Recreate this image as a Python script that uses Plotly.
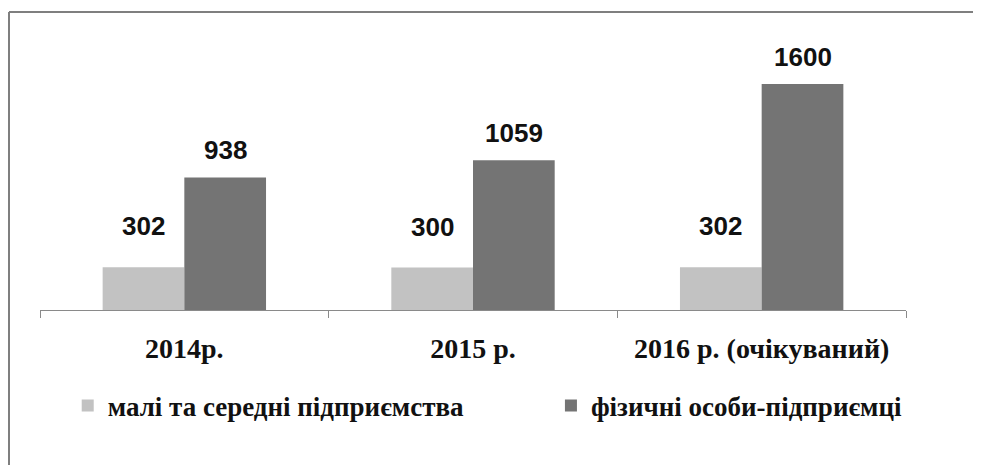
import plotly.graph_objects as go

# categories and values
years = ["2014р.", "2015 р.", "2016 р. (очікуваний)"]
small_medium = [302, 300, 302]
individual = [938, 1059, 1600]
series_names = ["малі та середні підприємства", "фізичні особи-підприємці"]

LIGHT = "#c2c2c2"
DARK = "#747474"
SERIF = "Liberation Serif"
SANS = "Liberation Sans"

fig = go.Figure()
fig.add_trace(go.Bar(x=years, y=small_medium, name=series_names[0],
                     marker=dict(color=LIGHT, line=dict(width=0)),
                     legend="legend"))
fig.add_trace(go.Bar(x=years, y=individual, name=series_names[1],
                     marker=dict(color=DARK, line=dict(width=0)),
                     legend="legend2"))

# value labels above the bars (left bar / right bar of each group)
for yr, v in zip(years, small_medium):
    fig.add_annotation(x=yr, y=v, text=str(v), showarrow=False,
                       xshift=-41, yshift=24, yanchor="bottom",
                       font=dict(family=SANS, size=26, color="#111111",
                                 weight="bold"))
for yr, v in zip(years, individual):
    fig.add_annotation(x=yr, y=v, text=str(v), showarrow=False,
                       xshift=41, yshift=10, yanchor="bottom",
                       font=dict(family=SANS, size=26, color="#111111",
                                 weight="bold"))

# frame lines (top and left edges of the original chart box)
fig.add_shape(type="line", xref="paper", yref="paper",
              x0=-0.0358, x1=1.1, y0=1.192, y1=1.192,
              line=dict(color="#7f7f7f", width=2))
fig.add_shape(type="line", xref="paper", yref="paper",
              x0=-0.0358, x1=-0.0358, y0=1.192, y1=-0.7,
              line=dict(color="#7f7f7f", width=2))

legend_font = dict(family=SERIF, size=27, color="#111111", weight="bold")

fig.update_layout(
    width=973, height=457,
    margin=dict(l=32, r=75, t=52, b=155),
    paper_bgcolor="white", plot_bgcolor="white",
    barmode="group", bargap=0.434, bargroupgap=0,
    showlegend=True,
    legend=dict(orientation="h", x=0.032, xanchor="left",
                y=-0.384, yanchor="middle", font=legend_font,
                itemwidth=30),
    legend2=dict(orientation="h", x=0.590, xanchor="left",
                 y=-0.384, yanchor="middle", font=legend_font,
                 itemwidth=30),
    xaxis=dict(showline=True, linecolor="#8a8a8a", linewidth=1,
               ticks="outside", tickson="boundaries", ticklen=7,
               tickcolor="#8a8a8a", ticklabelstandoff=13,
               tickfont=dict(family=SERIF, size=28, color="#111111",
                             weight="bold"),
               showgrid=False),
    yaxis=dict(range=[0, 1769], visible=False, showgrid=False,
               zeroline=False),
)

fig.write_html("out.html")
